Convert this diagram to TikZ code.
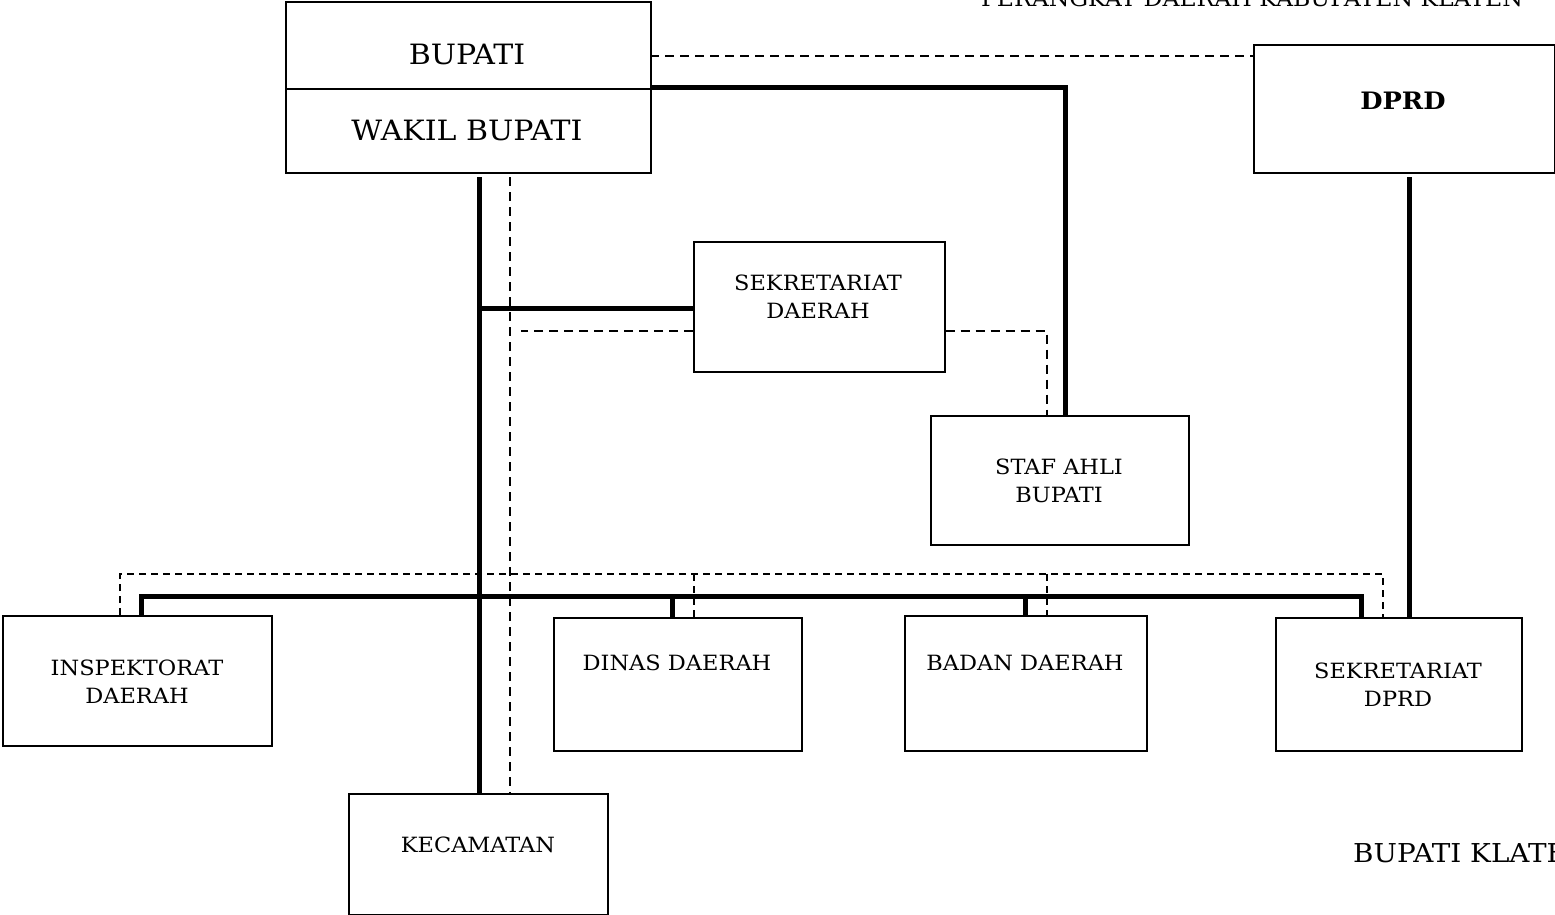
\documentclass[tikz,border=0pt]{standalone}
\usepackage{fontspec}
\setmainfont{DejaVu Serif}[FakeStretch=1.07]
\begin{document}
\begin{tikzpicture}[x=1pt,y=-1pt,
  box/.style={draw, line width=1.7pt, inner sep=0pt, anchor=north west},
  bigtxt/.style={font=\fontsize{28}{30}\selectfont, inner sep=0pt},
  smalltxt/.style={font=\fontsize{21}{28}\selectfont, align=center, inner sep=0pt},
  thk/.style={line width=5pt},
  dsh/.style={line width=1.7pt, dash pattern=on 9pt off 6pt},
  dshs/.style={line width=1.3pt, dash pattern=on 7pt off 5pt}]
\useasboundingbox (0,0) rectangle (1555,915);
\clip (0,0) rectangle (1555,915);
% boxes
\node[box, minimum width=365pt, minimum height=87pt] (bup) at (285,1) {};
\node[box, minimum width=365pt, minimum height=84pt] (wak) at (285,88) {};
\node[box, minimum width=301pt, minimum height=128pt] (dprd) at (1253,44) {};
\node[box, minimum width=251pt, minimum height=130pt] (sek) at (693,241) {};
\node[box, minimum width=258pt, minimum height=129pt] (staf) at (930,415) {};
\node[box, minimum width=269pt, minimum height=130pt] (insp) at (2,615) {};
\node[box, minimum width=248pt, minimum height=133pt] (dinas) at (553,617) {};
\node[box, minimum width=242pt, minimum height=135pt] (badan) at (904,615) {};
\node[box, minimum width=246pt, minimum height=133pt] (sdprd) at (1275,617) {};
\node[box, minimum width=259pt, minimum height=121pt] (kec) at (348,793) {};
% texts
\node[bigtxt] (tbup) at (467,54) {BUPATI};
\node[bigtxt] (twak) at (467,130) {WAKIL BUPATI};
\node[font=\fontsize{24}{28}\selectfont\bfseries, inner sep=0pt] (tdprd) at (1403,101) {DPRD};
\node[smalltxt] (tsek) at (818,297) {SEKRETARIAT\\DAERAH};
\node[smalltxt] (tstaf) at (1059,481) {STAF AHLI\\BUPATI};
\node[smalltxt] (tinsp) at (137,682) {INSPEKTORAT\\DAERAH};
\node[smalltxt] (tdinas) at (677,663) {DINAS DAERAH};
\node[smalltxt] (tbadan) at (1025,663) {BADAN DAERAH};
\node[smalltxt] (tsdprd) at (1398,685) {SEKRETARIAT\\DPRD};
\node[smalltxt] (tkec) at (478,845) {KECAMATAN};
\node[font=\fontsize{22}{28}\selectfont, inner sep=0pt, anchor=base] (ttitle) at (1252,7) {PERANGKAT DAERAH KABUPATEN KLATEN};
\node[font=\fontsize{26}{30}\selectfont, inner sep=0pt, anchor=base west] (tsign) at (1353,862) {BUPATI KLATEN};
% junction coordinates
\coordinate (j1) at (479,308);
\coordinate (jb) at (479,177);
\coordinate (jstaf) at (1065,88);
\coordinate (jd) at (1409,177);
\coordinate (bl) at (141,596);
\coordinate (br) at (1361,596);
% thick connectors
\draw[thk] (jb) -- (jb |- kec.north);
\draw[thk] (j1) -- (j1 -| sek.west);
\draw[thk] (wak.north east) -- (jstaf) -- (jstaf |- staf.north);
\draw[thk] (bl |- insp.north) -- (bl) -- (br) -- (br |- sdprd.north);
\draw[thk] (672,596) -- (672,596 |- dinas.north);
\draw[thk] (1025,596) -- (1025,596 |- badan.north);
\draw[thk] (jd) -- (jd |- sdprd.north);
% dashed connectors
\coordinate (d1) at (650,56);
\draw[dsh] (d1) -- (d1 -| dprd.west);
\coordinate (d2) at (510,177);
\draw[dsh] (d2) -- (d2 |- kec.north);
\coordinate (d3) at (521,331);
\draw[dsh] (d3 -| sek.west) -- (d3);
\coordinate (d4) at (1047,331);
\draw[dsh] (d4 -| sek.east) -- (d4) -- (d4 |- staf.north);
\coordinate (dl) at (120,574);
\coordinate (dr) at (1383,574);
\draw[dshs] (dl |- insp.north) -- (dl) -- (dr) -- (dr |- sdprd.north);
\draw[dshs] (694,574) -- (694,574 |- dinas.north);
\draw[dshs] (1047,574) -- (1047,574 |- badan.north);
\end{tikzpicture}
\end{document}
